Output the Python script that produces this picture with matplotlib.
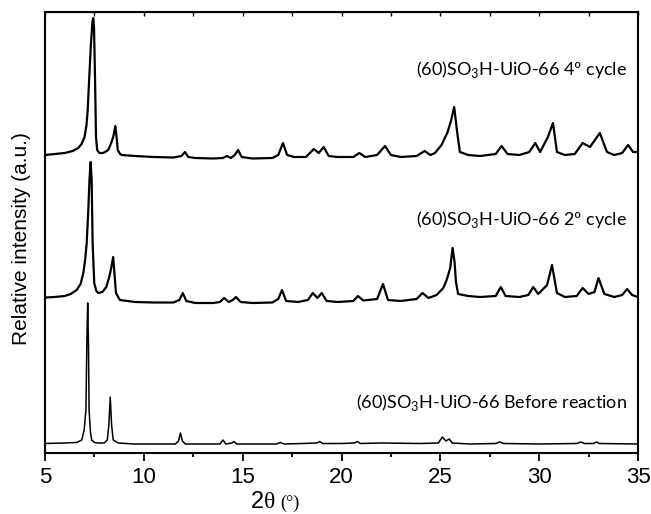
#!/usr/bin/env python3
"""Stacked XRD patterns of (60)SO3H-UiO-66 before reaction and after cycles."""

import matplotlib

matplotlib.use("Agg")
import matplotlib.pyplot as plt
from matplotlib.ticker import MultipleLocator, NullLocator

# 2-theta / intensity readings (arbitrary units, already offset for stacking)
theta_4th = [
    5.0, 5.5, 6.0, 6.4, 6.68, 6.85, 7.0, 7.1, 7.16, 7.24, 7.32, 7.40, 7.44, 7.48,
    7.53, 7.58, 7.64, 7.75, 7.87, 8.0, 8.2, 8.35, 8.45, 8.56, 8.62, 8.68, 8.8,
    8.88, 9.55, 10.5, 11.5, 11.9, 12.08, 12.25, 12.6, 13.5, 14.0, 14.2, 14.4,
    14.6, 14.77, 14.95, 15.5, 16.5, 16.8, 17.04, 17.25, 17.6, 18.2, 18.45, 18.6,
    18.85, 19.1, 19.35, 19.8, 20.6, 20.9, 21.2, 21.8, 22.2, 22.5, 23.0, 23.8,
    24.2, 24.5, 24.73, 25.06, 25.37, 25.55, 25.7, 25.85, 25.99, 26.41, 27.0,
    27.8, 28.1, 28.4, 29.0, 29.5, 29.8, 30.05, 30.44, 30.7, 30.9, 31.3, 31.8,
    32.2, 32.57, 33.07, 33.43, 33.8, 34.2, 34.5, 34.75, 35.0,
]
int_4th = [
    298, 299, 300, 302, 305, 309, 316, 328, 343, 376, 408, 431, 435, 425,
    376, 316, 303, 300, 300, 300.5, 303, 310, 316, 327, 316, 303, 299,
    298, 297, 296, 295.5, 297, 301, 296, 295, 294.5, 295, 297, 295,
    298, 303, 296, 294.5, 295, 298, 310, 298, 296, 296, 301, 304,
    300, 306, 297, 296, 296, 300, 296, 298, 307, 298, 296, 297,
    302, 298, 300, 308, 321, 333, 346, 321, 301, 298, 297,
    299, 307, 299, 298, 301, 310, 301, 316, 330, 301, 298, 299,
    310, 306, 320, 301, 298, 300, 308, 301, 301,
]

theta_2nd = [
    5.0, 5.5, 6.0, 6.3, 6.6, 6.8, 6.94, 7.03, 7.11, 7.19, 7.25, 7.31, 7.36,
    7.41, 7.49, 7.6, 7.7, 7.9, 8.1, 8.25, 8.35, 8.45, 8.52, 8.59, 8.79, 9.55,
    10.5, 11.5, 11.8, 11.97, 12.15, 12.6, 13.5, 13.85, 14.06, 14.3, 14.5,
    14.66, 14.9, 15.5, 16.5, 16.8, 16.99, 17.2, 17.8, 18.3, 18.55, 18.78,
    19.0, 19.25, 19.8, 20.6, 20.83, 21.1, 21.8, 22.1, 22.35, 23.0, 23.8, 24.1,
    24.4, 24.81, 25.15, 25.32, 25.5, 25.62, 25.72, 25.79, 25.9, 26.41, 27.0,
    27.8, 28.06, 28.3, 29.0, 29.45, 29.7, 29.95, 30.4, 30.65, 30.9, 31.3,
    31.9, 32.2, 32.5, 32.8, 33.0, 33.3, 33.8, 34.2, 34.45, 34.7, 35.0,
]
int_2nd = [
    155.5, 156, 157, 159, 163, 169, 180, 193, 210, 243, 273, 291, 273,
    210, 170, 162, 160, 161, 166, 176, 185, 196, 178, 160, 153, 151,
    150.5, 150.5, 153, 160, 152, 150, 150, 151, 155, 151, 153,
    156, 151, 150, 150.5, 154, 163, 152, 151, 153, 160, 155,
    160, 152, 151, 152, 157, 152.5, 154, 169, 153, 152, 154, 160,
    155, 158, 165, 173, 185, 205, 191, 171, 159, 157, 156,
    157, 166, 157, 156, 158, 166, 159, 168, 188, 160, 156,
    157, 165, 159, 161, 175, 159, 156, 158, 164, 158, 156,
]

theta_fresh = [
    5.0, 6.0, 6.6, 6.86, 6.98, 7.07, 7.12, 7.16, 7.2, 7.23, 7.3, 7.36, 7.5,
    7.7, 8.0, 8.15, 8.23, 8.3, 8.37, 8.45, 8.71, 9.5, 10.5, 11.6, 11.75,
    11.85, 11.95, 12.1, 13.0, 13.85, 14.0, 14.15, 14.45, 14.56, 14.7, 15.5,
    16.7, 16.9, 17.1, 18.0, 18.75, 18.9, 19.05, 20.0, 20.65, 20.8, 20.95,
    22.0, 24.0, 24.9, 25.1, 25.28, 25.45, 25.6, 26.5, 27.8, 28.0, 28.2, 30.0,
    31.9, 32.1, 32.3, 32.75, 32.9, 33.05, 35.0,
]
int_fresh = [
    9.5, 10, 10.5, 13, 23, 43, 113, 150, 108, 43, 21, 13, 10.5,
    10, 10, 13, 28, 56, 28, 13, 10, 9, 9, 9, 12,
    20, 12, 9, 9, 9, 13, 9, 10, 11.5, 9, 9,
    9, 10.5, 9, 9.5, 10, 11.5, 9.5, 9.5, 10, 11.5, 9.5,
    10, 9.5, 10, 16, 12, 14, 10, 9, 9.5, 11, 9.5, 9,
    9.5, 11, 9.5, 9.5, 11, 9.5, 9,
]

series_labels = [
    r"(60)SO$_\mathregular{3}$H-UiO-66 4º cycle",
    r"(60)SO$_\mathregular{3}$H-UiO-66 2º cycle",
    r"(60)SO$_\mathregular{3}$H-UiO-66 Before reaction",
]
label_heights = [378, 228, 45]
x_ticks = [5, 10, 15, 20, 25, 30, 35]


def main() -> None:
    plt.rcParams["mathtext.fontset"] = "custom"
    plt.rcParams["mathtext.rm"] = "Lato"
    fig = plt.figure(figsize=(6.51, 5.14), dpi=100)
    ax = fig.add_axes([45 / 651, 61 / 514, 593 / 651, 441 / 514])

    ax.plot(theta_4th, int_4th, color="black", lw=1.6)
    ax.plot(theta_2nd, int_2nd, color="black", lw=1.6)
    ax.plot(theta_fresh, int_fresh, color="black", lw=1.1)

    for text, height in zip(series_labels, label_heights):
        ax.text(34.44, height, text, ha="right", va="baseline",
                fontsize=13, family=["Lato", "DejaVu Sans"])

    ax.set_xlim(5, 35)
    ax.set_ylim(0, 441)
    ax.set_xticks(x_ticks)
    ax.xaxis.set_minor_locator(MultipleLocator(2.5))
    ax.yaxis.set_major_locator(NullLocator())
    ax.tick_params(axis="x", which="major", direction="out", length=6, width=1.3,
                   pad=4, labelsize=16)
    ax.tick_params(axis="x", which="minor", direction="out", length=3, width=1.3)
    for lab in ax.get_xticklabels():
        lab.set_family(["Liberation Sans Narrow", "Liberation Sans"])
    for side in ax.spines.values():
        side.set_linewidth(1.5)

    # top axis ticks, pointing inward
    top = ax.secondary_xaxis("top")
    top.set_xticks(x_ticks)
    top.xaxis.set_minor_locator(MultipleLocator(2.5))
    top.tick_params(which="both", direction="in", length=3, width=1.0,
                    labeltop=False)

    fig.text(22 / 651, 1 - 239 / 514, "Relative intensity (a.u.)", rotation=90,
             ha="center", va="center", fontsize=15, family="Liberation Sans")
    base_y = 1 - 508 / 514
    fig.text(264 / 651, base_y, "2", ha="right", va="baseline",
             fontsize=17, family=["Liberation Sans Narrow", "Liberation Sans"])
    fig.text(264 / 651, base_y, "θ", ha="left", va="baseline",
             fontsize=17, family="Liberation Serif")
    fig.text(280 / 651, base_y, "(°)", ha="left", va="baseline",
             fontsize=13, family="Liberation Serif")

    fig.savefig("out.png", dpi=100)
    plt.close(fig)


if __name__ == "__main__":
    main()
